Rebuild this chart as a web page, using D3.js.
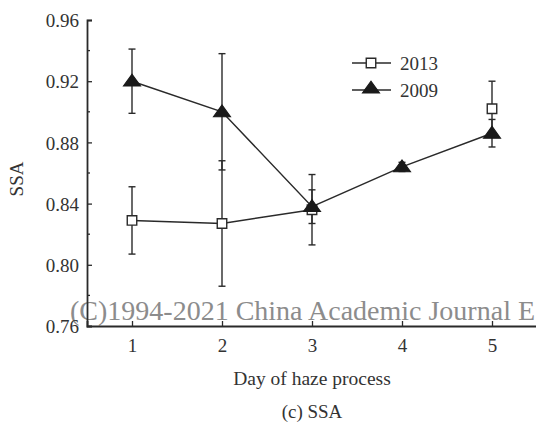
<!DOCTYPE html>
<html>
<head>
<meta charset="utf-8">
<script src="https://cdn.jsdelivr.net/npm/d3@7"></script>
<style>
  html, body { margin: 0; padding: 0; background: #fff; }
  svg { display: block; }
  text { font-family: "Liberation Serif", "Times New Roman", serif; fill: #333; }
</style>
</head>
<body>
<svg id="chart" width="536" height="423"></svg>
<script>
// Day of the haze process
const days = [1, 2, 3, 4, 5];

// Single scattering albedo, mean and error half-width per day (null = no observation)
const ssa2013 = [0.829, 0.827, 0.836, null, 0.902];
const err2013 = [0.022, 0.041, 0.023, null, 0.018];
const ssa2009 = [0.920, 0.900, 0.838, 0.864, 0.886];
const err2009 = [0.021, 0.038, 0.011, 0.003, 0.009];

const yMajorTicks = [0.76, 0.80, 0.84, 0.88, 0.92, 0.96];
const yMinorTicks = [0.78, 0.82, 0.86, 0.90, 0.94];
const xTicks = [1, 2, 3, 4, 5];

const svg = d3.select("#chart");
const ink = "#2a2a2a";
const serif = '"Liberation Serif", "Times New Roman", serif';

const x = d3.scaleLinear().domain([0.5, 5.5]).range([87, 537]);
const y = d3.scaleLinear().domain([0.76, 0.96]).range([326, 20]);

// Watermark line running along the bottom of the plot
svg.append("text")
  .attr("x", 70).attr("y", 320)
  .style("font-size", "28px")
  .style("fill", "#8c8c8c")
  .text("(C)1994-2021 China Academic Journal E");

// Y axis (ticks pointing inward)
const yAxis = svg.append("g").attr("transform", `translate(${x(0.5)},0)`)
  .call(d3.axisLeft(y).tickValues(yMajorTicks).tickSize(-5).tickPadding(8)
    .tickFormat(d3.format(".2f")));
yAxis.append("g").selectAll("line").data(yMinorTicks).join("line")
  .attr("x1", 0).attr("x2", 3).attr("y1", d => y(d)).attr("y2", d => y(d))
  .attr("stroke", ink).attr("stroke-width", 1.3);

// X axis (ticks pointing inward)
const xAxis = svg.append("g").attr("transform", `translate(0,${y(0.76)})`)
  .call(d3.axisBottom(x).tickValues(xTicks).tickSize(-5).tickPadding(13)
    .tickFormat(d3.format("d")));

[yAxis, xAxis].forEach(g => {
  g.attr("font-family", serif).attr("font-size", 19);
  g.select(".domain").attr("stroke", ink).attr("stroke-width", 1.8);
  g.selectAll(".tick line").attr("stroke", ink).attr("stroke-width", 1.3);
  g.selectAll(".tick text").style("font-size", "19px").style("fill", "#333")
    .style("font-family", serif);
});
yAxis.selectAll(".tick text").attr("dy", "0.35em");

// Axis titles and caption
svg.append("text")
  .attr("transform", `translate(23,179) rotate(-90)`)
  .attr("text-anchor", "middle")
  .style("font-size", "19px")
  .text("SSA");
svg.append("text")
  .attr("x", 312).attr("y", 385)
  .attr("text-anchor", "middle")
  .style("font-size", "19.5px")
  .text("Day of haze process");
svg.append("text")
  .attr("x", 312).attr("y", 418)
  .attr("text-anchor", "middle")
  .style("font-size", "19px")
  .text("(c) SSA");

function toPoints(vals, errs) {
  return days.map((d, i) => ({ day: d, v: vals[i], e: errs[i] }));
}
const pts2013 = toPoints(ssa2013, err2013);
const pts2009 = toPoints(ssa2009, err2009);
const has = p => p.v != null;

// Line breaks where a day has no observation
const line = d3.line().defined(has).x(p => x(p.day)).y(p => y(p.v));
const capW = 3.5;

function drawErrors(points) {
  const g = svg.append("g").attr("stroke", ink).attr("stroke-width", 1.4);
  points.filter(has).forEach(p => {
    const cx = x(p.day);
    g.append("line").attr("x1", cx).attr("x2", cx).attr("y1", y(p.v - p.e)).attr("y2", y(p.v + p.e));
    [p.v - p.e, p.v + p.e].forEach(v => {
      g.append("line").attr("x1", cx - capW).attr("x2", cx + capW).attr("y1", y(v)).attr("y2", y(v));
    });
  });
}
drawErrors(pts2013);
drawErrors(pts2009);

svg.append("path").datum(pts2013).attr("d", line)
  .attr("fill", "none").attr("stroke", ink).attr("stroke-width", 1.5);
svg.append("path").datum(pts2009).attr("d", line)
  .attr("fill", "none").attr("stroke", ink).attr("stroke-width", 1.5);

const squareSym = d3.symbol().type(d3.symbolSquare).size(90);
const triSym = d3.symbol().type(d3.symbolTriangle).size(80);

function drawSquares(points) {
  svg.append("g").selectAll("path").data(points.filter(has)).join("path")
    .attr("d", squareSym)
    .attr("transform", p => `translate(${x(p.day)},${y(p.v)})`)
    .attr("fill", "#fff").attr("stroke", ink).attr("stroke-width", 1.4);
}
function drawTriangles(points) {
  svg.append("g").selectAll("path").data(points.filter(has)).join("path")
    .attr("d", triSym)
    .attr("transform", p => `translate(${x(p.day)},${y(p.v) + 1}) scale(1.25,1)`)
    .attr("fill", "#1a1a1a").attr("stroke", "#1a1a1a").attr("stroke-width", 1);
}
drawSquares(pts2013);
drawTriangles(pts2009);

// Legend
const legend = [
  { label: "2013", kind: "square", y: 63 },
  { label: "2009", kind: "triangle", y: 90 }
];
legend.forEach(item => {
  svg.append("line").attr("x1", 352).attr("x2", 391).attr("y1", item.y).attr("y2", item.y)
    .attr("stroke", ink).attr("stroke-width", 1.5);
  if (item.kind === "square") {
    svg.append("path").attr("d", squareSym).attr("transform", `translate(371,${item.y})`)
      .attr("fill", "#fff").attr("stroke", ink).attr("stroke-width", 1.4);
  } else {
    svg.append("path").attr("d", triSym).attr("transform", `translate(371,${item.y - 1}) scale(1.25,1)`)
      .attr("fill", "#1a1a1a").attr("stroke", "#1a1a1a").attr("stroke-width", 1);
  }
  svg.append("text").attr("x", 400).attr("y", item.y).attr("dy", "0.35em")
    .style("font-size", "19px").text(item.label);
});
</script>
</body>
</html>
